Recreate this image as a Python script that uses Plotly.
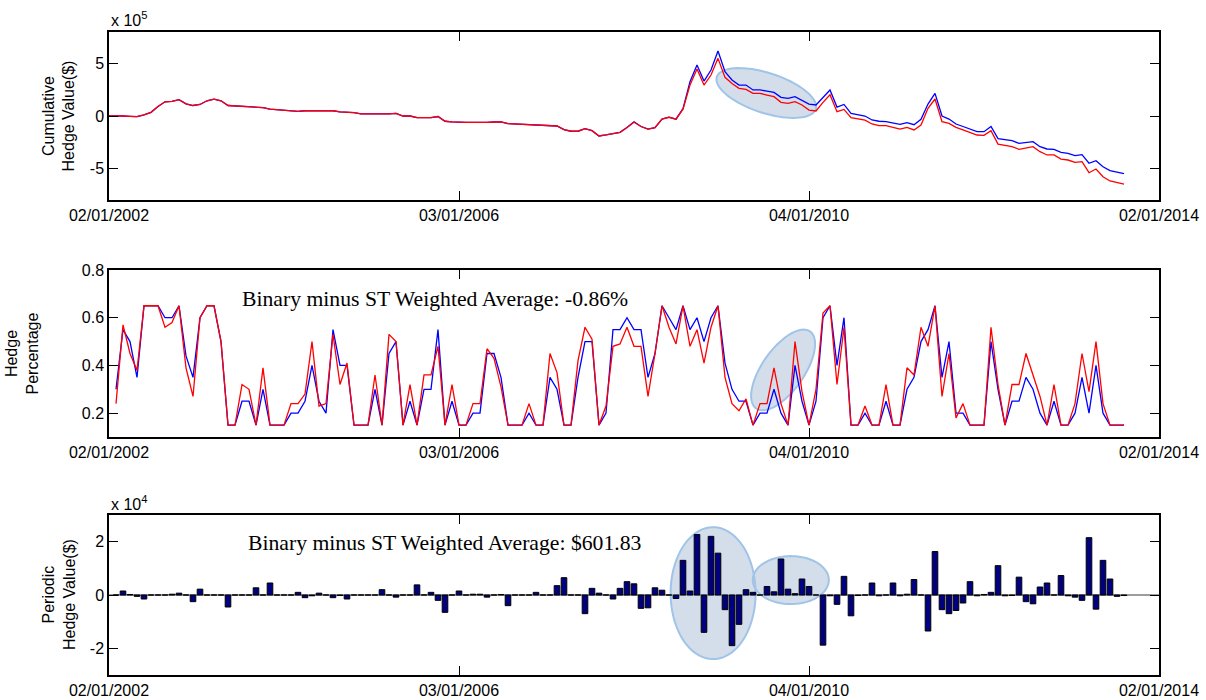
import numpy as np
import plotly.graph_objects as go
from plotly.subplots import make_subplots

# ---------------- data ----------------
tick_positions = [0, 50, 100, 150]
tick_labels = ["02/01/2002", "03/01/2006", "04/01/2010", "02/01/2014"]

# Cumulative hedge value (units of 1e5 $), index 0..145
cum_binary = [0, 0.02, 0.0, -0.03, -0.05, 0.1, 0.35, 0.9, 1.35, 1.4,
              1.55, 1.15, 1.0, 1.1, 1.45, 1.6, 1.45, 1.0, 0.95, 0.95,
              0.9, 0.8, 0.8, 0.65, 0.6, 0.55, 0.5, 0.45, 0.5, 0.5,
              0.45, 0.45, 0.5, 0.4, 0.35, 0.33, 0.2, 0.2, 0.2, 0.15,
              0.2, 0.25, 0.0, 0.0, -0.15, -0.15, -0.15, -0.05, -0.5, -0.55,
              -0.6, -0.6, -0.6, -0.62, -0.6, -0.57, -0.55, -0.72, -0.75, -0.78,
              -0.82, -0.85, -0.88, -0.85, -0.95, -1.3, -1.45, -1.45, -1.2, -1.4,
              -1.9, -1.8, -1.7, -1.55, -1.1, -0.55, -1.0, -1.25, -1.1, -0.3,
              -0.1, -0.3, 0.7, 3.27, 4.86, 3.33, 4.38, 6.19, 4.22, 3.43,
              2.95, 2.95, 2.48, 2.48, 2.38, 2.25, 1.78, 1.68, 1.84, 1.52,
              1.14, 1.05, 1.8, 2.48, 0.85, 1.1, 0.25, 0.1, 0.0, -0.38,
              -0.5, -0.54, -0.7, -0.8, -0.63, -0.83, -0.32, 1.14, 2.16, 0.0,
              -0.29, -0.76, -1.0, -1.27, -1.49, -1.49, -1.0, -2.16, -2.22, -2.35,
              -2.6, -2.54, -2.44, -2.92, -3.14, -3.17, -3.46, -3.56, -3.78, -3.68,
              -4.5, -4.25, -4.83, -5.2, -5.33, -5.49]
cum_st = [0, 0.02, 0.0, -0.03, -0.05, 0.1, 0.35, 0.9, 1.35, 1.4,
          1.55, 1.15, 1.0, 1.1, 1.45, 1.6, 1.45, 1.0, 0.95, 0.95,
          0.9, 0.8, 0.8, 0.65, 0.6, 0.55, 0.5, 0.45, 0.5, 0.5,
          0.45, 0.45, 0.5, 0.4, 0.35, 0.33, 0.2, 0.2, 0.2, 0.15,
          0.2, 0.25, 0.0, 0.0, -0.15, -0.15, -0.15, -0.05, -0.5, -0.55,
          -0.6, -0.6, -0.6, -0.62, -0.6, -0.57, -0.55, -0.72, -0.75, -0.78,
          -0.82, -0.85, -0.88, -0.85, -0.95, -1.3, -1.45, -1.45, -1.2, -1.4,
          -1.9, -1.8, -1.7, -1.55, -1.1, -0.6, -1.0, -1.25, -1.1, -0.3,
          -0.12, -0.3, 0.65, 2.95, 4.48, 2.95, 3.9, 5.49, 3.68, 3.1,
          2.63, 2.54, 2.16, 2.16, 2.0, 1.84, 1.3, 1.2, 1.36, 1.05,
          0.57, 0.48, 1.3, 2.03, 0.41, 0.63, -0.16, -0.3, -0.4, -0.76,
          -0.92, -0.92, -1.1, -1.24, -1.08, -1.33, -0.86, 0.73, 1.62, -0.54,
          -0.7, -1.08, -1.33, -1.59, -1.81, -1.84, -1.4, -2.67, -2.76, -2.92,
          -3.17, -3.05, -2.92, -3.4, -3.71, -3.71, -4.1, -4.19, -4.41, -4.35,
          -5.4, -5.05, -5.78, -6.19, -6.35, -6.48]

# Hedge percentage, index 1..145
pct_binary = [0.30, 0.55, 0.50, 0.35, 0.65, 0.65, 0.65, 0.60, 0.60, 0.65,
              0.44, 0.35, 0.60, 0.65, 0.65, 0.50, 0.15, 0.15, 0.25, 0.25,
              0.15, 0.30, 0.15, 0.15, 0.15, 0.20, 0.20, 0.25, 0.40, 0.25,
              0.20, 0.55, 0.40, 0.40, 0.15, 0.15, 0.15, 0.30, 0.15, 0.45,
              0.50, 0.15, 0.25, 0.15, 0.30, 0.30, 0.55, 0.15, 0.25, 0.15,
              0.15, 0.20, 0.20, 0.45, 0.45, 0.35, 0.15, 0.15, 0.15, 0.20,
              0.15, 0.15, 0.35, 0.30, 0.15, 0.15, 0.35, 0.50, 0.50, 0.15,
              0.20, 0.55, 0.55, 0.60, 0.55, 0.55, 0.35, 0.45, 0.65, 0.60,
              0.55, 0.65, 0.55, 0.60, 0.50, 0.60, 0.65, 0.41, 0.30, 0.25,
              0.25, 0.15, 0.20, 0.20, 0.30, 0.20, 0.15, 0.40, 0.25, 0.15,
              0.25, 0.60, 0.65, 0.40, 0.60, 0.15, 0.15, 0.20, 0.15, 0.15,
              0.25, 0.15, 0.15, 0.30, 0.35, 0.50, 0.55, 0.65, 0.35, 0.50,
              0.20, 0.20, 0.15, 0.15, 0.15, 0.50, 0.30, 0.15, 0.25, 0.25,
              0.35, 0.30, 0.20, 0.15, 0.25, 0.15, 0.15, 0.20, 0.35, 0.20,
              0.40, 0.20, 0.15, 0.15, 0.15]
pct_st = [0.24, 0.57, 0.45, 0.38, 0.65, 0.65, 0.65, 0.56, 0.58, 0.65,
          0.39, 0.27, 0.60, 0.65, 0.65, 0.50, 0.15, 0.15, 0.32, 0.30,
          0.15, 0.39, 0.15, 0.15, 0.15, 0.24, 0.24, 0.28, 0.50, 0.23,
          0.24, 0.53, 0.32, 0.41, 0.15, 0.15, 0.15, 0.36, 0.15, 0.53,
          0.50, 0.15, 0.32, 0.15, 0.36, 0.36, 0.48, 0.15, 0.32, 0.15,
          0.15, 0.24, 0.24, 0.47, 0.43, 0.31, 0.15, 0.15, 0.15, 0.24,
          0.15, 0.15, 0.45, 0.37, 0.15, 0.15, 0.42, 0.56, 0.51, 0.15,
          0.23, 0.48, 0.49, 0.56, 0.48, 0.48, 0.27, 0.45, 0.65, 0.56,
          0.49, 0.65, 0.48, 0.55, 0.41, 0.56, 0.65, 0.35, 0.24, 0.21,
          0.26, 0.15, 0.24, 0.24, 0.39, 0.24, 0.15, 0.50, 0.29, 0.15,
          0.30, 0.62, 0.65, 0.32, 0.56, 0.15, 0.15, 0.23, 0.15, 0.15,
          0.32, 0.15, 0.15, 0.39, 0.36, 0.56, 0.48, 0.65, 0.27, 0.45,
          0.18, 0.24, 0.15, 0.15, 0.15, 0.56, 0.32, 0.15, 0.32, 0.32,
          0.45, 0.36, 0.27, 0.15, 0.32, 0.15, 0.15, 0.24, 0.45, 0.29,
          0.50, 0.24, 0.15, 0.15, 0.15]

# Periodic hedge value difference (units of 1e4 $), index 1..145
periodic_diff = [0, 0.15, 0.02, -0.05, -0.15, 0, 0, 0, 0.03, 0.07,
                 0, -0.25, 0.22, 0, 0, 0, -0.45, 0, 0, 0,
                 0.27, 0, 0.45, 0, 0, 0, 0.1, -0.1, -0.03, 0.07,
                 0, -0.1, -0.02, -0.15, 0, 0, 0, 0, 0.2, 0,
                 -0.08, 0, 0, 0.38, 0, 0.1, -0.2, -0.65, 0, 0.15,
                 0, 0.03, 0.03, -0.08, 0, 0.02, -0.4, 0, 0, 0,
                 0.1, 0, 0, 0.35, 0.65, 0, 0, -0.7, 0.25, 0.07,
                 0, -0.15, 0.25, 0.5, 0.42, -0.5, -0.48, 0.27, 0.18, 0,
                 -0.13, 1.3, 0.15, 2.27, -1.4, 2.2, 1.57, -0.55, -1.9, -1.1,
                 0.2, 0.1, 0, 0.32, 0.12, 1.35, 0.22, 0.05, 0.6, 0.32,
                 0, -1.88, -0.03, -0.35, 0.7, -0.78, -0.02, 0, 0.45, -0.03,
                 0, 0.45, -0.03, 0.03, 0.58, 0, -1.35, 1.63, -0.55, -0.7,
                 -0.58, -0.3, 0.5, -0.03, 0.02, 0.1, 1.1, -0.03, -0.02, 0.67,
                 -0.25, -0.33, 0.3, 0.45, 0, 0.73, -0.03, -0.08, -0.2, 2.15,
                 -0.53, 1.3, 0.6, -0.05, -0.02]

idx_cum = list(range(len(cum_binary)))
idx_pct = list(range(1, len(pct_binary) + 1))
idx_bar = list(range(1, len(periodic_diff) + 1))

# ---------------- figure ----------------
fig = make_subplots(rows=3, cols=1)

BLUE = "rgb(0,0,255)"
RED = "rgb(255,0,0)"

fig.add_trace(go.Scatter(x=idx_cum, y=cum_binary, mode="lines",
                         line=dict(color=BLUE, width=1.3), showlegend=False), row=1, col=1)
fig.add_trace(go.Scatter(x=idx_cum, y=cum_st, mode="lines",
                         line=dict(color=RED, width=1.3), showlegend=False), row=1, col=1)
fig.add_trace(go.Scatter(x=idx_pct, y=pct_binary, mode="lines",
                         line=dict(color=BLUE, width=1.3), showlegend=False), row=2, col=1)
fig.add_trace(go.Scatter(x=idx_pct, y=pct_st, mode="lines",
                         line=dict(color=RED, width=1.3), showlegend=False), row=2, col=1)
fig.add_trace(go.Bar(x=idx_bar, y=periodic_diff, width=0.8,
                     marker=dict(color="#000080", line=dict(color="black", width=1)),
                     showlegend=False), row=3, col=1)

# axes
domains = [(0.7387, 1.0), (0.3701, 0.6299), (0.0, 0.2488)]
yranges = [(-8, 8), (0.1, 0.8), (-3, 3)]
yticks = [([-5, 0, 5], ["-5", "0", "5"]),
          ([0.2, 0.4, 0.6, 0.8], ["0.2", "0.4", "0.6", "0.8"]),
          ([-2, 0, 2], ["-2", "0", "2"])]
TICKFONT = dict(family="Liberation Sans, Arial, sans-serif", size=16, color="black")
for i in range(3):
    r = i + 1
    fig.update_xaxes(row=r, col=1, range=[0, 150], tickmode="array",
                     tickvals=tick_positions, ticktext=tick_labels,
                     ticks="inside", ticklen=9, tickcolor="black", tickwidth=1,
                     showline=True, linecolor="black", linewidth=1.5, mirror="allticks",
                     showgrid=False, zeroline=False, tickfont=TICKFONT, automargin=False)
    fig.update_yaxes(row=r, col=1, range=list(yranges[i]), domain=list(domains[i]),
                     tickmode="array", tickvals=yticks[i][0], ticktext=yticks[i][1],
                     ticks="inside", ticklen=9, tickcolor="black", tickwidth=1,
                     showline=True, linecolor="black", linewidth=1.5, mirror="allticks",
                     showgrid=False, zeroline=False, tickfont=TICKFONT, automargin=False)

# ellipse highlight helper (centre in data coords, semi-axes in pixels)
PX_PER_X = 7.0
px_per_y = {1: 10.5, 2: 238.6, 3: 26.67}


def ellipse_path(cx, cy, a, b, theta_deg, row):
    t = np.linspace(0, 2 * np.pi, 80)
    th = np.deg2rad(theta_deg)
    dx = a * np.cos(t) * np.cos(th) - b * np.sin(t) * np.sin(th)
    dy = a * np.cos(t) * np.sin(th) + b * np.sin(t) * np.cos(th)
    xs = cx + dx / PX_PER_X
    ys = cy - dy / px_per_y[row]
    pts = [f"{x:.4f},{y:.4f}" for x, y in zip(xs, ys)]
    return "M " + " L ".join(pts) + " Z"


ELL_FILL = "rgba(176,194,216,0.55)"
ELL_LINE = "rgba(160,196,232,1)"
ellipses = [  # (cx, cy, a_px, b_px, theta, row)
    (93.9, 2.19, 52, 20, 18, 1),
    (96.3, 0.381, 47, 21, -55, 2),
    (86.3, 0.07, 42.5, 66, 0, 3),
    (97.4, 0.56, 38, 24, 0, 3),
]
for cx, cy, a, b, th, row in ellipses:
    xr = "x" if row == 1 else f"x{row}"
    yr = "y" if row == 1 else f"y{row}"
    fig.add_shape(type="path", path=ellipse_path(cx, cy, a, b, th, row),
                  xref=xr, yref=yr, fillcolor=ELL_FILL,
                  line=dict(color=ELL_LINE, width=2), layer="below")

# baseline for bar chart
fig.add_shape(type="line", xref="x3 domain", yref="y3", x0=0, x1=1, y0=0, y1=0,
              line=dict(color="rgb(60,60,60)", width=1), layer="below")

LABELFONT = dict(family="Liberation Sans, Arial, sans-serif", size=16, color="black")
SERIF = dict(family="Liberation Serif, Times New Roman, serif", size=21.7, color="black")

annotations = [
    dict(text="x 10<sup>5</sup>", x=0.0, y=1.02, xanchor="left", yanchor="middle", font=LABELFONT),
    dict(text="x 10<sup>4</sup>", x=0.0, y=0.2675, xanchor="left", yanchor="middle", font=LABELFONT),
    dict(text="Cumulative<br>Hedge Value($)", x=-0.0481, y=0.8694, textangle=-90,
         xanchor="center", yanchor="middle", font=LABELFONT),
    dict(text="Hedge<br>Percentage", x=-0.0829, y=0.5, textangle=-90,
         xanchor="center", yanchor="middle", font=LABELFONT),
    dict(text="Periodic<br>Hedge Value($)", x=-0.0476, y=0.1244, textangle=-90,
         xanchor="center", yanchor="middle", font=LABELFONT),
    dict(text="Binary minus ST Weighted Average: -0.86%", x=0.1248, y=0.5848,
         xanchor="left", yanchor="middle", font=SERIF),
    dict(text="Binary minus ST Weighted Average: $601.83", x=0.1305, y=0.2053,
         xanchor="left", yanchor="middle", font=SERIF),
]
for an in annotations:
    fig.add_annotation(xref="paper", yref="paper", showarrow=False, **an)

fig.update_layout(width=1206, height=700, margin=dict(l=109, r=47, t=32, b=25, autoexpand=False),
                  plot_bgcolor="white", paper_bgcolor="white", bargap=0.2,
                  showlegend=False)

fig.write_html("out.html")
